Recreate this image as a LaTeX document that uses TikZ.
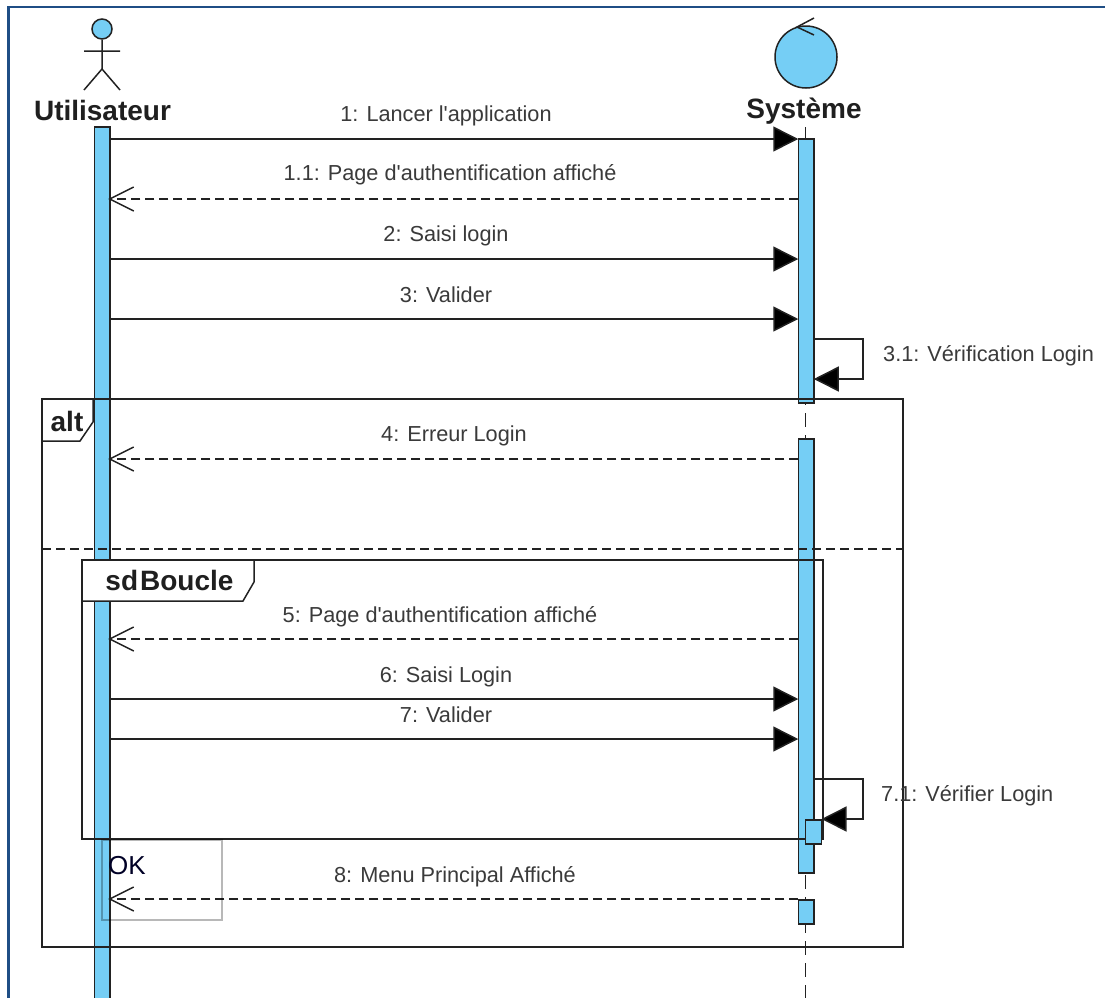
\documentclass[tikz,border=0pt]{standalone}
\usepackage{fontspec}
\setmainfont{Liberation Sans}
\newfontfamily\labelfont{Liberation Sans}
\usetikzlibrary{arrows.meta}
\definecolor{barblue}{HTML}{75CEF5}
\definecolor{edge}{HTML}{222222}
\definecolor{labelgrey}{HTML}{3A3A3A}
\definecolor{rimblue}{HTML}{1F4E85}
\tikzset{
  every picture/.style={x=1pt,y=-1pt},
  line/.style={draw=edge,line width=1.5pt},
  bar/.style={line,fill=barblue,rectangle,inner sep=0pt,outer sep=0pt,minimum width=15.5pt},
  sync/.style={line,-{Triangle[length=25pt,width=25pt,fill=black]}},
  reply/.style={line,dash pattern=on 9pt off 5pt},
  msglabel/.style={text=labelgrey,font=\labelfont\fontsize{21.7}{25}\selectfont,inner sep=0pt},
  title/.style={text=black!88,font=\fontsize{28}{32}\selectfont\bfseries,inner sep=0pt},
  lifeline/.style={line,dash pattern=on 14pt off 8pt},
  frameline/.style={draw=edge,line width=1.5pt}
}
\newcommand{\barbat}[1]{\draw[line] (#1) ++(24,-12) -- ++(-24,12) -- ++(24,12);}
\begin{document}
\begin{tikzpicture}
\useasboundingbox (0,0) rectangle (1105,997);
\fill[white] (0,0) rectangle (1105,997);
\begin{scope}
\clip (0,0) rectangle (1105,997);
\draw[rimblue,line width=2.4pt] (8.5,1003) -- (8.5,7) -- (1110,7);

% message rows
\foreach \n/\y in {1/139,2/199,3/259,4/319,5/339,6/379,7/459,8/639,9/699,10/739,11/779,12/819,13/899}
  \coordinate (y\n) at (0,\y);

% lifelines
\coordinate (sysTop) at (805.5,127);
\coordinate (sysEnd) at (805.5,1003);
\draw[lifeline] (sysTop) -- (sysEnd);
\node[bar,minimum height=876pt] (ubar) at (102,565) {};
\node[bar,minimum height=264pt] (sbarA) at (806,271) {};
\node[bar,minimum height=434pt] (sbarB) at (806,656) {};
\node[bar,minimum height=24pt] (sbarC) at (806,912) {};

% actor
\node[circle,line,fill=barblue,minimum size=20pt,inner sep=0pt] (head) at (102,29) {};
\coordinate (hip) at (102,69);
\coordinate (armL) at (84,51);
\coordinate (armR) at (120,51);
\coordinate (legL) at (84,90);
\coordinate (legR) at (120,90);
\draw[line] (head) -- (hip) (armL) -- (armR) (legL) -- (hip) -- (legR);
\node[title] (utilisateur) at (102.5,110) {Utilisateur};

% control object
\node[circle,line,fill=barblue,minimum size=62pt,inner sep=0pt] (ctrl) at (806,57) {};
\coordinate (ctrlA) at (814,18);
\coordinate (ctrlB) at (797,27);
\coordinate (ctrlC) at (814,35);
\draw[line] (ctrlA) -- (ctrlB) -- (ctrlC);
\node[title] (systeme) at (804,111) {Système};

% frames
\coordinate (altA) at (42,399);
\coordinate (altB) at (903,947);
\coordinate (altT1) at (93,399);
\coordinate (altT2) at (93,422);
\coordinate (altT3) at (80,441);
\coordinate (altT4) at (42,441);
\coordinate (divL) at (42,549);
\coordinate (divR) at (903,549);
\draw[frameline] (altA) rectangle (altB);
\draw[frameline] (altT1) -- (altT2) -- (altT3) -- (altT4);
\draw[frameline,dash pattern=on 9pt off 5pt] (divL) -- (divR);
\node[title] (altlabel) at (67,421) {alt};

\coordinate (sdA) at (82,560);
\coordinate (sdB) at (823,839);
\coordinate (sdT1) at (254,560);
\coordinate (sdT2) at (254,582);
\coordinate (sdT3) at (243,601);
\coordinate (sdT4) at (82,601);
\draw[frameline] (sdA) rectangle (sdB);
\filldraw[frameline,fill=white] (sdA) -- (sdT1) -- (sdT2) -- (sdT3) -- (sdT4) -- cycle;
\node[title] (sdlabel) at (169.5,580) {sd\hspace{2pt}Boucle};

% nested activation on top of frames
\node[bar,minimum height=24pt,minimum width=16pt] (sbarD) at (813.5,832) {};

% messages
\draw[sync]  (ubar.east |- y1) -- (sbarA.west |- y1);
\draw[reply] (sbarA.west |- y2) -- (ubar.east |- y2);
\barbat{ubar.east |- y2}
\draw[sync]  (ubar.east |- y3) -- (sbarA.west |- y3);
\draw[sync]  (ubar.east |- y4) -- (sbarA.west |- y4);
\coordinate (loopA) at (863,339);
\coordinate (loopB) at (863,379);
\draw[sync] (sbarA.east |- y5) -- (loopA) -- (loopB) -- (sbarA.east |- y6);
\draw[reply] (sbarB.west |- y7) -- (ubar.east |- y7);
\barbat{ubar.east |- y7}
\draw[reply] (sbarB.west |- y8) -- (ubar.east |- y8);
\barbat{ubar.east |- y8}
\draw[sync]  (ubar.east |- y9) -- (sbarB.west |- y9);
\draw[sync]  (ubar.east |- y10) -- (sbarB.west |- y10);
\coordinate (loopC) at (863,779);
\coordinate (loopD) at (863,819);
\draw[sync] (sbarB.east |- y11) -- (loopC) -- (loopD) -- (sbarD.east |- y12);
\draw[reply] (sbarC.west |- y13) -- (ubar.east |- y13);
\barbat{ubar.east |- y13}

% labels
\node[msglabel] (t1) at (446,115.5) {1: Lancer l'application};
\node[msglabel] (t2) at (450,174.5) {1.1: Page d'authentification affiché};
\node[msglabel] (t3) at (446,235.5) {2: Saisi login};
\node[msglabel] (t4) at (446,295) {3: Valider};
\node[msglabel,anchor=west] (t5) at (883,356) {3.1: Vérification Login};
\node[msglabel] (t6) at (454,435.5) {4: Erreur Login};
\node[msglabel] (t7) at (440,616.5) {5: Page d'authentification affiché};
\node[msglabel] (t8) at (446,676.5) {6: Saisi Login};
\node[msglabel] (t9) at (446,715) {7: Valider};
\node[msglabel,anchor=west] (t10) at (881,796) {7.1: Vérifier Login};
\node[msglabel] (t11) at (455,876.5) {8: Menu Principal Affiché};

% OK note
\node[draw=black,draw opacity=0.28,line width=1.3pt,rectangle,minimum width=120pt,minimum height=80pt,inner sep=0pt] (okbox) at (162,880) {};
\node[text=black!85!blue,font=\fontsize{26}{30}\selectfont,inner sep=0pt] (ok) at (127,866) {OK};
\end{scope}
\end{tikzpicture}
\end{document}
